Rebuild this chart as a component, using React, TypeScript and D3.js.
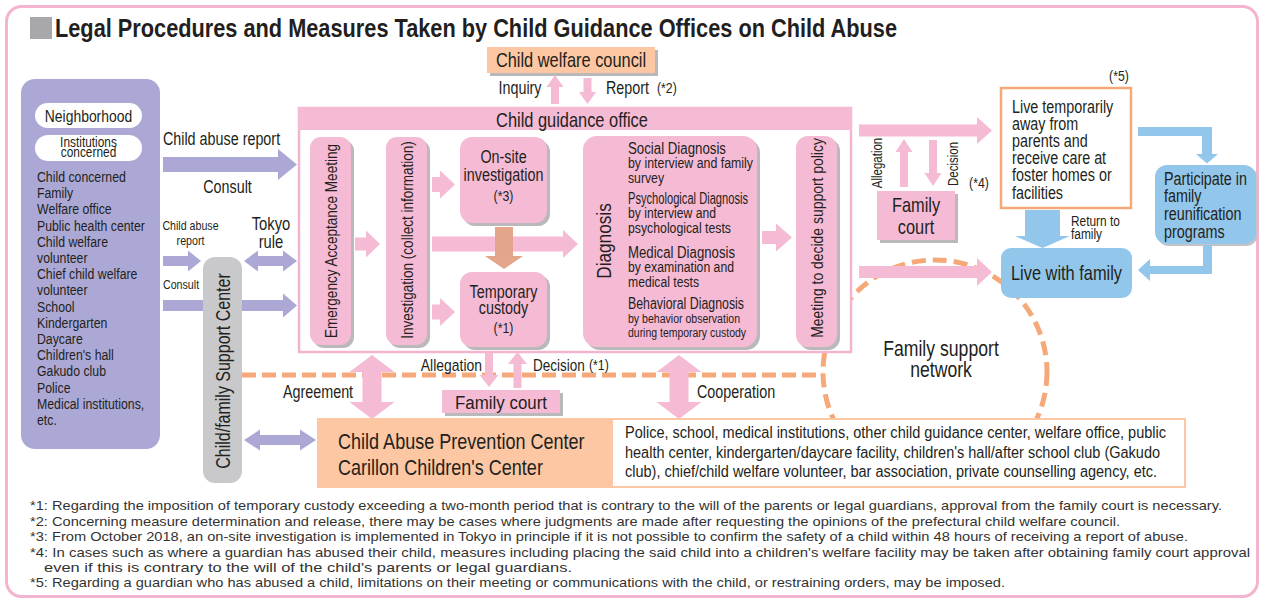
import React from "react";
import * as d3 from "d3";

const FONT = "'Liberation Sans', Arial, 'DejaVu Sans', sans-serif";
const NARROW = 0.82;
const INK = "#231f20";
const COL = {
  pink: "#f5bad4",
  frame: "#f4b4d0",
  purple: "#aca8d5",
  peach: "#fcc7a2",
  orange: "#f5a979",
  blue: "#92c6ea",
  gray: "#c9c9cb",
  brown: "#e3a68a",
  shadow: "#b9b9bc",
  square: "#a8a8aa",
};

const TITLE = "Legal Procedures and Measures Taken by Child Guidance Offices on Child Abuse";
const sources = [
  "Child concerned", "Family", "Welfare office", "Public health center", "Child welfare",
  "volunteer", "Chief child welfare", "volunteer", "School", "Kindergarten", "Daycare",
  "Children's hall", "Gakudo club", "Police", "Medical institutions,", "etc.",
];
const diagnosisLines = [
  { t: "Social Diagnosis", head: true, w: 98 },
  { t: "by interview and family", head: false, w: 125 },
  { t: "survey", head: false, w: 36 },
  { t: "Psychological Diagnosis", head: true, w: 120 },
  { t: "by interview and", head: false, w: 88 },
  { t: "psychological tests", head: false, w: 103 },
  { t: "Medical Diagnosis", head: true, w: 107 },
  { t: "by examination and", head: false, w: 106 },
  { t: "medical tests", head: false, w: 71 },
  { t: "Behavioral Diagnosis", head: true, w: 116 },
  { t: "by behavior observation", head: false, w: 112 },
  { t: "during temporary custody", head: false, w: 118 },
];
const diagnosisY = [149, 163.5, 178.5, 199, 213.5, 228.5, 252.5, 267, 282, 303.5, 318.5, 333];
const livingAway = ["Live temporarily", "away from", "parents and", "receive care at", "foster homes or", "facilities"];
const reunification = ["Participate in", "family", "reunification", "programs"];
const partners = [
  "Police, school, medical institutions, other child guidance center, welfare office, public",
  "health center, kindergarten/daycare facility, children's hall/after school club (Gakudo",
  "club), chief/child welfare volunteer, bar association, private counselling agency, etc.",
];
const partnerEnds = [1166, 1160, 1157];
const footnotes = [
  "*1: Regarding the imposition of temporary custody exceeding a two-month period that is contrary to the will of the parents or legal guardians, approval from the family court is necessary.",
  "*2: Concerning measure determination and release, there may be cases where judgments are made after requesting the opinions of the prefectural child welfare council.",
  "*3: From October 2018, an on-site investigation is implemented in Tokyo in principle if it is not possible to confirm the safety of a child within 48 hours of receiving a report of abuse.",
  "*4: In cases such as where a guardian has abused their child, measures including placing the said child into a children's welfare facility may be taken after obtaining family court approval",
  "even if this is contrary to the will of the child's parents or legal guardians.",
  "*5: Regarding a guardian who has abused a child, limitations on their meeting or communications with the child, or restraining orders, may be imposed.",
];
const footStart = [30, 30, 30, 30, 44, 30];
const footEnd = [1222, 1120, 1188, 1250, 572, 1005];
const footY = [505, 521, 536.5, 552, 567, 582];

type P = [number, number];
const lineGen = d3.line<P>().x((d) => d[0]).y((d) => d[1]);
const poly = (pts: P[]) => (lineGen(pts) as string) + "Z";

function arrow(x1: number, y1: number, x2: number, y2: number, bw: number, hw: number, hl: number, dbl = false) {
  const L = Math.hypot(x2 - x1, y2 - y1);
  const ux = (x2 - x1) / L, uy = (y2 - y1) / L, px = -uy, py = ux;
  const loc: P[] = dbl
    ? [[0, 0], [hl, -hw / 2], [hl, -bw / 2], [L - hl, -bw / 2], [L - hl, -hw / 2], [L, 0], [L - hl, hw / 2], [L - hl, bw / 2], [hl, bw / 2], [hl, hw / 2]]
    : [[0, -bw / 2], [L - hl, -bw / 2], [L - hl, -hw / 2], [L, 0], [L - hl, hw / 2], [L - hl, bw / 2], [0, bw / 2]];
  return poly(loc.map(([a, b]) => [x1 + ux * a + px * b, y1 + uy * a + py * b] as P));
}

type TP = {
  x: number; y: number; s: number; a?: "start" | "middle" | "end"; w?: string | number;
  rot?: number; len?: number; fill?: string; sx?: number; children: React.ReactNode;
};
const T = ({ x, y, s, a = "start", w, rot = 0, len, fill = INK, sx = NARROW, children }: TP) => (
  <text
    x={0}
    y={0}
    fontSize={s}
    textAnchor={a}
    dominantBaseline="central"
    fontWeight={w}
    fill={fill}
    transform={`translate(${x},${y}) rotate(${rot}) scale(${sx},1)`}
    textLength={len ? len / sx : undefined}
    lengthAdjust={len ? "spacingAndGlyphs" : undefined}
  >
    {children}
  </text>
);

type BP = { x: number; y: number; w: number; h: number; r?: number; fill: string; sh?: number; shColor?: string };
const Box = ({ x, y, w, h, r = 0, fill, sh = 3, shColor = COL.shadow }: BP) => (
  <g>
    {sh > 0 && <rect x={x + sh} y={y + sh} width={w} height={h} rx={r} fill={shColor} />}
    <rect x={x} y={y} width={w} height={h} rx={r} fill={fill} />
  </g>
);

export default function App() {
  const listY = d3.range(sources.length).map((i) => 177 + i * 16.2);
  return (
    <svg
      width={1263}
      height={600}
      style={{ position: "absolute", left: 0, top: 0, background: "#fff" }}
      fontFamily={FONT}
    >
      <rect x={0} y={0} width={1263} height={600} fill="#fff" />
      {/* outer frame */}
      <rect x={6.5} y={6.5} width={1251} height={590} rx={15} fill="none" stroke={COL.frame} strokeWidth={3} />

      {/* title */}
      <rect x={30} y={17} width={22} height={22} fill={COL.square} />
      <T x={55} y={28} s={26} w="bold" len={842}>{TITLE}</T>

      {/* left sources box */}
      <rect x={21} y={79} width={139} height={370} rx={14} fill={COL.purple} />
      <rect x={35} y={103} width={107} height={25} rx={12.5} fill="#fff" />
      <T x={88.5} y={116} s={17} a="middle">Neighborhood</T>
      <rect x={35} y={135} width={107} height={26} rx={13} fill="#fff" />
      <T x={88.5} y={142} s={14.5} a="middle">Institutions</T>
      <T x={88.5} y={152.5} s={14.5} a="middle">concerned</T>
      {sources.map((s, i) => (
        <T key={i} x={37} y={listY[i]} s={15}>{s}</T>
      ))}

      {/* left arrows */}
      <path d={arrow(163, 164.5, 297, 164.5, 15, 31, 19)} fill={COL.purple} />
      <T x={221.5} y={139} s={17.5} a="middle">Child abuse report</T>
      <T x={227.5} y={187} s={17.5} a="middle">Consult</T>
      <T x={190.5} y={226} s={13} a="middle">Child abuse</T>
      <T x={190.5} y={241} s={13} a="middle">report</T>
      <path d={arrow(163, 261, 201, 261, 10, 21, 13)} fill={COL.purple} />
      <T x={271} y={223} s={18} a="middle">Tokyo</T>
      <T x={271} y={241} s={18} a="middle">rule</T>
      <path d={arrow(244, 261, 297, 261, 10, 21, 14, true)} fill={COL.purple} />
      <T x={163} y={285} s={13}>Consult</T>
      <path d={arrow(163, 305.5, 297, 305.5, 11, 24, 14)} fill={COL.purple} />

      {/* child/family support center */}
      <rect x={203} y={257} width={39} height={226} rx={12} fill={COL.gray} />
      <T x={223} y={371} s={19.5} a="middle" rot={-90}>Child/family Support Center</T>
      <path d={arrow(244, 440, 316, 440, 10, 21, 16, true)} fill={COL.purple} />

      {/* family support network circle & dashed line */}
      <line x1={242} y1={375} x2={823} y2={375} stroke={COL.orange} strokeWidth={5} strokeDasharray="14 6" />
      <circle cx={935} cy={372} r={112} fill="none" stroke={COL.orange} strokeWidth={5} strokeDasharray="14 7" />
      <T x={941} y={348} s={21.5} a="middle">Family support</T>
      <T x={941} y={369} s={21.5} a="middle">network</T>

      {/* child welfare council */}
      <Box x={487} y={47} w={168} h={26} fill={COL.peach} />
      <T x={571} y={60} s={20} a="middle">Child welfare council</T>
      <path d={arrow(555, 104, 555, 75, 8, 17, 12)} fill={COL.pink} />
      <path d={arrow(587.5, 78, 587.5, 104, 8, 17, 12)} fill={COL.pink} />
      <T x={520} y={88} s={17.5} a="middle">Inquiry</T>
      <T x={606} y={88} s={17.5}>Report</T>
      <T x={657} y={88} s={15}>(*2)</T>

      {/* child guidance office frame */}
      <rect x={299} y={108} width={552} height={244} fill="#fff" stroke={COL.frame} strokeWidth={2.5} />
      <rect x={298} y={107} width={554} height={23} fill={COL.pink} />
      <T x={572} y={120} s={20} a="middle">Child guidance office</T>

      <Box x={310} y={137} w={41} h={208} r={11} fill={COL.pink} />
      <T x={331} y={241} s={16.5} a="middle" rot={-90}>Emergency Acceptance Meeting</T>
      <Box x={386} y={137} w={41} h={208} r={11} fill={COL.pink} />
      <T x={407} y={240} s={16.5} a="middle" rot={-90}>Investigation (collect information)</T>
      <path d={arrow(355, 244, 380, 244, 13, 27, 14)} fill={COL.pink} />
      <path d={arrow(432, 184.5, 455, 184.5, 15, 28, 15)} fill={COL.pink} />
      <path d={arrow(432, 312, 455, 312, 15, 28, 15)} fill={COL.pink} />
      <path d={arrow(432, 244, 578, 244, 15, 28, 15)} fill={COL.pink} />

      <Box x={460} y={137} w={87} h={86} r={12} fill={COL.pink} />
      <T x={503.5} y={157} s={17.5} a="middle">On-site</T>
      <T x={503.5} y={175} s={17.5} a="middle">investigation</T>
      <T x={503.5} y={196.5} s={15} a="middle">(*3)</T>
      <Box x={460} y={272} w={87} h={75} r={12} fill={COL.pink} />
      <T x={503.5} y={291.5} s={17.5} a="middle">Temporary</T>
      <T x={503.5} y={307.5} s={17.5} a="middle">custody</T>
      <T x={503.5} y={328} s={15} a="middle">(*1)</T>
      <path d={arrow(504, 227, 504, 269, 18, 38, 13)} fill={COL.brown} />

      <Box x={583} y={136} w={174} h={211} r={14} fill={COL.pink} />
      <T x={604} y={241} s={21} a="middle" rot={-90}>Diagnosis</T>
      {diagnosisLines.map((d, i) => (
        <T key={i} x={628} y={diagnosisY[i]} s={d.head ? 16 : i >= 10 ? 13.5 : 14.5} len={d.w}>{d.t}</T>
      ))}
      <path d={arrow(762, 237.5, 792, 237.5, 13, 28, 16)} fill={COL.pink} />
      <Box x={796} y={136} w={41} h={211} r={12} fill={COL.pink} />
      <T x={817} y={238} s={17} a="middle" rot={-90}>Meeting to decide support policy</T>

      {/* bottom family court */}
      <path d={arrow(489, 353, 489, 387, 8, 19, 12)} fill={COL.pink} />
      <path d={arrow(517.5, 388, 517.5, 352, 8, 19, 12)} fill={COL.pink} />
      <T x={482} y={365} s={17} a="end">Allegation</T>
      <T x={533} y={365} s={16.5}>Decision</T>
      <T x={589} y={365} s={15}>(*1)</T>
      <Box x={442} y={390} w={118} h={23} fill={COL.pink} />
      <T x={501} y={402} s={19} a="middle" len={92}>Family court</T>

      {/* agreement / cooperation */}
      <path d={arrow(372, 355, 372, 419, 19, 45, 17, true)} fill={COL.pink} />
      <T x={318} y={392} s={17.5} a="middle">Agreement</T>
      <path d={arrow(679, 355, 679, 419, 19, 45, 17, true)} fill={COL.pink} />
      <T x={697} y={392} s={17.5}>Cooperation</T>

      {/* CAPC + partners */}
      <rect x={317} y={418} width={869} height={70} fill={COL.peach} />
      <rect x={613} y={420} width={571} height={66} fill="#fff" />
      <T x={338} y={441} s={22}>Child Abuse Prevention Center</T>
      <T x={338} y={467} s={22}>Carillon Children's Center</T>
      {partners.map((p, i) => (
        <T key={i} x={625} y={433 + i * 19.5} s={16} len={partnerEnds[i] - 625}>{p}</T>
      ))}

      {/* right side */}
      <path d={arrow(859, 130.5, 992, 130.5, 12, 27, 15)} fill={COL.pink} />
      <path d={arrow(859, 272, 992, 272, 12, 28, 15)} fill={COL.pink} />
      <path d={arrow(904, 187, 904, 139, 8, 17, 13)} fill={COL.pink} />
      <path d={arrow(933, 140, 933, 186, 8, 17, 13)} fill={COL.pink} />
      <T x={877} y={163} s={14} a="middle" rot={-90}>Allegation</T>
      <T x={953} y={164} s={14} a="middle" rot={-90}>Decision</T>
      <T x={979} y={183} s={15} a="middle">(*4)</T>
      <Box x={877} y={191} w={78} h={49} fill={COL.pink} />
      <T x={916} y={205} s={20} a="middle">Family</T>
      <T x={916} y={227} s={20} a="middle">court</T>

      <rect x={1001} y={88} width={130} height={120} fill="#fff" stroke={COL.orange} strokeWidth={2.5} />
      {livingAway.map((s, i) => (
        <T key={i} x={1012} y={106.5 + i * 17.2} s={17.5}>{s}</T>
      ))}
      <T x={1119} y={76} s={15} a="middle">(*5)</T>

      <path d={arrow(1042.5, 210, 1042.5, 248, 35, 55, 12)} fill={COL.blue} />
      <T x={1071} y={221} s={14.5}>Return to</T>
      <T x={1071} y={234.5} s={14.5}>family</T>
      <path
        d={poly([[1138, 127], [1212, 127], [1212, 154], [1218, 154], [1207, 163.5], [1196, 154], [1202, 154], [1202, 136], [1138, 136]])}
        fill={COL.blue}
      />
      <Box x={1155} y={165} w={101} h={79} r={12} fill={COL.blue} sh={2} shColor="#c4c4c8" />
      {reunification.map((s, i) => (
        <T key={i} x={1164} y={178.5 + i * 17.8} s={17.5}>{s}</T>
      ))}
      <path
        d={poly([[1203, 245], [1212, 245], [1212, 274], [1150, 274], [1150, 281], [1138, 270], [1150, 259], [1150, 266], [1203, 266]])}
        fill={COL.blue}
      />
      <rect x={1001} y={248} width={131} height={50} rx={10} fill={COL.blue} />
      <T x={1066.5} y={273} s={20} a="middle">Live with family</T>

      {/* footnotes */}
      {footnotes.map((f, i) => (
        <T key={i} x={footStart[i]} y={footY[i]} s={13.5} sx={1} fill="#333" len={footEnd[i] - footStart[i]}>{f}</T>
      ))}
    </svg>
  );
}
